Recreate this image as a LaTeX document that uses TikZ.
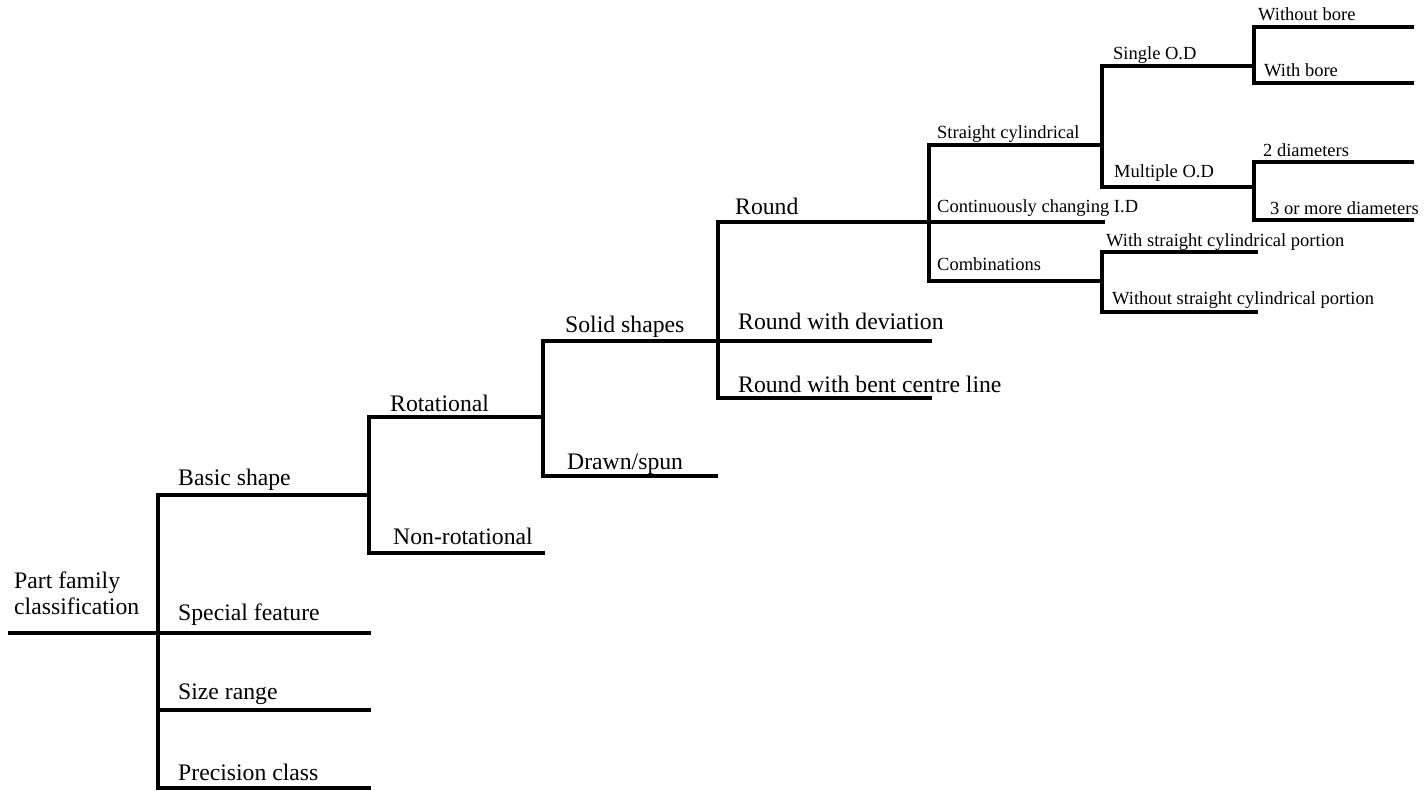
\documentclass[tikz,border=0pt]{standalone}
\usepackage{fontspec}
\setmainfont{Liberation Serif}
\begin{document}
\begin{tikzpicture}[x=1pt,y=-1pt,
  branch/.style={line width=3.2pt, line join=miter},
  big/.style={anchor=base west, inner sep=0pt, font=\fontsize{23.7}{26}\selectfont},
  small/.style={anchor=base west, inner sep=0pt, font=\fontsize{18.5}{22}\selectfont}]
\useasboundingbox (0,0) rectangle (1424,791);

% ---- branch points ----
\coordinate (r0) at (8,633);     \coordinate (r1) at (158,633);
% level 1
\coordinate (bs0) at (158,495);  \coordinate (bs1) at (369,495);
\coordinate (sf0) at (158,633);  \coordinate (sf1) at (371,633);
\coordinate (sr0) at (158,710);  \coordinate (sr1) at (371,710);
\coordinate (pc0) at (158,788);  \coordinate (pc1) at (371,788);
% level 2
\coordinate (ro0) at (369,417);  \coordinate (ro1) at (543,417);
\coordinate (nr0) at (369,553);  \coordinate (nr1) at (545,553);
% level 3
\coordinate (ss0) at (543,341);  \coordinate (ss1) at (718,341);
\coordinate (ds0) at (543,476);  \coordinate (ds1) at (718,476);
% level 4
\coordinate (rd0) at (718,222);  \coordinate (rd1) at (929,222);
\coordinate (rv0) at (718,341);  \coordinate (rv1) at (932,341);
\coordinate (rb0) at (718,398);  \coordinate (rb1) at (932,398);
% level 5
\coordinate (sc0) at (929,145);  \coordinate (sc1) at (1102,145);
\coordinate (cc0) at (929,222);  \coordinate (cc1) at (1105,222);
\coordinate (cb0) at (929,281);  \coordinate (cb1) at (1102,281);
% level 6
\coordinate (so0) at (1102,66);  \coordinate (so1) at (1254,66);
\coordinate (mo0) at (1102,187); \coordinate (mo1) at (1254,187);
\coordinate (wp0) at (1102,252); \coordinate (wp1) at (1258,252);
\coordinate (np0) at (1102,312); \coordinate (np1) at (1258,312);
% level 7
\coordinate (wb0) at (1254,27);  \coordinate (wb1) at (1414,27);
\coordinate (hb0) at (1254,83);  \coordinate (hb1) at (1414,83);
\coordinate (td0) at (1254,162); \coordinate (td1) at (1414,162);
\coordinate (md0) at (1254,220); \coordinate (md1) at (1414,220);

% ---- labels ----
\node[big, align=left] (root) at (14,614) {Part family\\classification};
\node[big] (basic)   at (178,485) {Basic shape};
\node[big] (special) at (178,620) {Special feature};
\node[big] (size)    at (178,699) {Size range};
\node[big] (prec)    at (178,780) {Precision class};
\node[big] (rot)     at (390,411) {Rotational};
\node[big] (nonrot)  at (393,544) {Non-rotational};
\node[big] (solid)   at (565,333) {Solid shapes};
\node[big] (drawn)   at (567,469) {Drawn/spun};
\node[big] (round)   at (735,215) {Round};
\node[big] (rdev)    at (738,330) {Round with deviation};
\node[big] (rbent)   at (738,392) {Round with bent centre line};
\node[small] (scyl)  at (937,139) {Straight cylindrical};
\node[small] (ccid)  at (937,213) {Continuously changing I.D};
\node[small] (comb)  at (937,271) {Combinations};
\node[small] (sod)   at (1113,60) {Single O.D};
\node[small] (mod)   at (1114,178) {Multiple O.D};
\node[small] (wob)   at (1258,21) {Without bore};
\node[small] (wib)   at (1264,77) {With bore};
\node[small] (twod)  at (1263,157) {2 diameters};
\node[small] (mored) at (1270,215) {3 or more diameters};
\node[small] (wscp)  at (1106,247) {With straight cylindrical portion};
\node[small] (woscp) at (1112,305) {Without straight cylindrical portion};

% ---- tree lines ----
\draw[branch] (r0) -- (r1);
\draw[branch] (bs1) -- (bs0) -- (pc0) -- (pc1);
\draw[branch] (sf0) -- (sf1);
\draw[branch] (sr0) -- (sr1);

\draw[branch] (ro1) -- (ro0) -- (nr0) -- (nr1);
\draw[branch] (ss1) -- (ss0) -- (ds0) -- (ds1);
\draw[branch] (rd1) -- (rd0) -- (rb0) -- (rb1);
\draw[branch] (rv0) -- (rv1);
\draw[branch] (sc1) -- (sc0) -- (cb0) -- (cb1);
\draw[branch] (cc0) -- (cc1);
\draw[branch] (so1) -- (so0) -- (mo0) -- (mo1);
\draw[branch] (wp1) -- (wp0) -- (np0) -- (np1);
\draw[branch] (wb1) -- (wb0) -- (hb0) -- (hb1);
\draw[branch] (td1) -- (td0) -- (md0) -- (md1);
\end{tikzpicture}
\end{document}
